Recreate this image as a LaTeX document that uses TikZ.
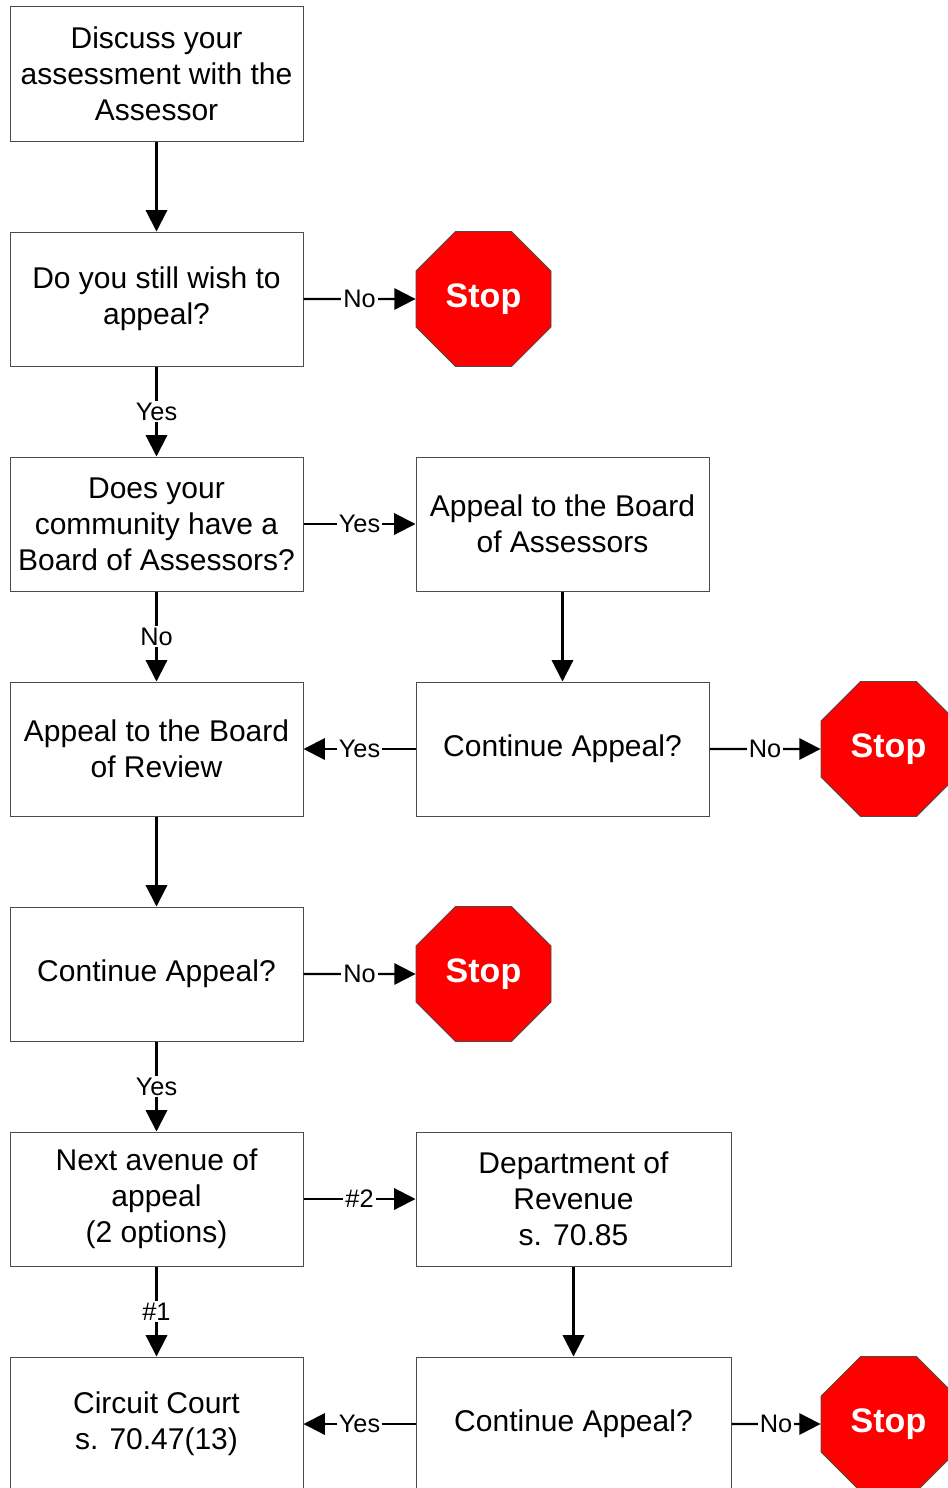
\documentclass[tikz,border=0pt]{standalone}
\usepackage{fontspec}
\setmainfont{Liberation Sans}
\usetikzlibrary{arrows.meta,shapes.geometric}

\begin{document}
\begin{tikzpicture}[x=0.75pt,y=0.75pt,yscale=-1,xscale=1,
    box/.style={draw=black!70,line width=0.75pt,fill=white,rectangle,minimum width=219.75pt,minimum height=100.5pt,inner sep=0pt,align=center,font=\fontsize{22.5}{27}\selectfont},
    widebox/.style={box,minimum width=236.25pt},
    stopsign/.style={draw=black!70,line width=0.6pt,fill=red,text=white,regular polygon,regular polygon sides=8,minimum size=109.6pt,inner sep=0pt,font=\bfseries\fontsize{25.5}{30}\selectfont},
    flow/.style={line width=1.6pt,-{Triangle[length=16pt,width=16pt]}},
    lbl/.style={fill=white,inner sep=1.5pt,font=\fontsize{19}{22}\selectfont}]
    \useasboundingbox (0,0) rectangle (948,1488);

    % Boxes
    \node [box] (discuss) at (156.5,74) {Discuss your\\assessment with the\\Assessor};
    \node [box] (wish) at (156.5,299) {Do you still wish to\\appeal?};
    \node [stopsign] (stopA) at (483.5,299) {Stop};
    \node [box] (hasboa) at (156.5,524) {Does your\\community have a\\Board of Assessors?};
    \node [box] (boa) at (562.5,524) {Appeal to the Board\\of Assessors};
    \node [box] (bor) at (156.5,749) {Appeal to the Board\\of Review};
    \node [box] (contA) at (562.5,749) {Continue Appeal?};
    \node [stopsign] (stopB) at (888.5,749) {Stop};
    \node [box] (contB) at (156.5,974) {Continue Appeal?};
    \node [stopsign] (stopC) at (483.5,974) {Stop};
    \node [box] (next) at (156.5,1199) {Next avenue of\\appeal\\(2 options)};
    \node [widebox] (dor) at (573.5,1199) {Department of\\Revenue\\s. 70.85};
    \node [box] (court) at (156.5,1424) {Circuit Court\\s. 70.47(13)};
    \node [widebox] (contC) at (573.5,1424) {Continue Appeal?};
    \node [stopsign] (stopD) at (888.5,1424) {Stop};

    % Connectors
    \draw [flow] (discuss) -- (wish);
    \draw [flow] (wish) -- node [lbl] {No} (stopA);
    \draw [flow] (wish) -- node [lbl] {Yes} (hasboa);
    \draw [flow] (hasboa) -- node [lbl] {Yes} (boa);
    \draw [flow] (hasboa) -- node [lbl] {No} (bor);
    \draw [flow] (boa) -- (contA);
    \draw [flow] (contA) -- node [lbl] {Yes} (bor);
    \draw [flow] (contA) -- node [lbl] {No} (stopB);
    \draw [flow] (bor) -- (contB);
    \draw [flow] (contB) -- node [lbl] {No} (stopC);
    \draw [flow] (contB) -- node [lbl] {Yes} (next);
    \draw [flow] (next) -- node [lbl] {\#2} (dor);
    \draw [flow] (next) -- node [lbl] {\#1} (court);
    \draw [flow] (dor) -- (contC);
    \draw [flow] (contC) -- node [lbl] {Yes} (court);
    \draw [flow] (contC) -- node [lbl] {No} (stopD);

\end{tikzpicture}
\end{document}
